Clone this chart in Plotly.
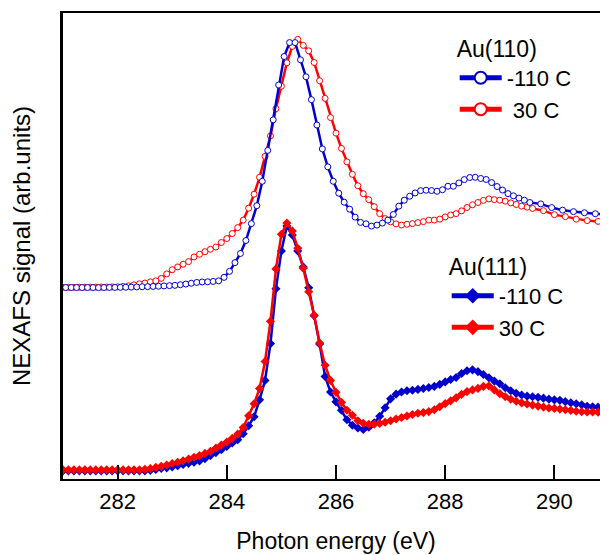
import numpy as np
import plotly.graph_objects as go

# ---------------- data (arb. units) ----------------
# Au(110) -110 C : measured every 0.1 eV up to 289.55, then every 0.2 eV
energy_au110_cold = list(np.round(np.arange(281.05, 289.56, 0.1), 2)) + \
    [289.75, 289.95, 290.15, 290.35, 290.55, 290.75, 290.95]
signal_au110_cold = [
    192.3, 192.3, 192.3, 192.3, 192.3, 192.3, 192.2, 192.3, 192.4, 192.4,
    192.5, 192.6, 192.7, 192.9, 193.1, 193.2, 193.4, 193.6, 193.9, 194.2,
    194.5, 195.1, 195.8, 196.6, 197.4, 197.9, 198.1, 198.4, 199.0, 202.5,
    208.5, 217.3, 226.5, 239.5, 256.5, 274.5, 299.0, 330.0, 360.7, 395.7,
    424.3, 438.3, 438.3, 421.0, 404.0, 381.0, 355.5, 331.5, 313.5, 299.0,
    287.0, 278.0, 271.0, 263.0, 257.7, 256.3, 254.0, 255.0, 257.0, 260.0,
    265.7, 274.0, 280.0, 284.0, 287.3, 289.6, 290.0, 289.7, 289.0, 290.5,
    294.0, 294.0, 297.3, 300.7, 302.8, 303.0, 301.8, 300.8, 297.7, 293.7,
    290.2, 286.6, 284.4, 282.1, 280.0, 277.7,
    276.3, 272.6, 270.0, 268.5, 267.4, 266.4, 265.7,
]

# Au(110) 30 C
energy_au110_warm = list(np.round(np.arange(281.0, 289.61, 0.1), 2)) + \
    [289.8, 290.0, 290.2, 290.4, 290.6, 290.8, 290.95]
signal_au110_warm = [
    192.5, 192.5, 192.5, 192.6, 192.6, 192.7, 192.7, 192.8, 192.8, 192.9,
    193.0, 193.4, 194.0, 195.0, 196.0, 196.8, 198.0, 199.0, 201.5, 206.0,
    210.2, 213.0, 215.7, 218.3, 223.0, 225.7, 228.3, 230.7, 233.0, 237.5,
    241.5, 246.5, 252.5, 260.0, 272.0, 286.0, 303.0, 324.0, 344.5, 372.0,
    394.5, 418.0, 434.5, 441.5, 435.5, 430.0, 418.3, 400.0, 382.3, 363.0,
    347.3, 332.0, 318.5, 306.0, 294.5, 286.5, 280.5, 273.5, 266.5, 261.5,
    258.2, 256.2, 255.0, 255.8, 256.5, 257.5, 258.5, 260.0, 260.0, 261.0,
    263.2, 265.2, 266.5, 269.3, 272.7, 275.4, 277.7, 279.8, 281.3, 280.6,
    280.0, 279.0, 277.3, 275.7, 274.0, 273.0, 271.7,
    269.5, 265.5, 263.5, 261.0, 259.5, 258.7, 258.2,
]

# Au(111), both temperatures measured every 0.1 eV
energy_au111 = list(np.round(np.arange(281.0, 290.91, 0.1), 2))
signal_au111_cold = [
    8.2, 8.2, 8.2, 8.2, 8.2, 8.2, 8.2, 8.2, 8.2, 8.2,
    8.2, 8.2, 8.2, 8.2, 8.2, 8.2, 8.7, 9.5, 10.5, 11.2,
    12.2, 13.4, 14.5, 15.7, 16.8, 18.2, 20.5, 23.5, 26.5, 29.5,
    32.7, 36.2, 39.5, 45.5, 53.5, 62.5, 79.5, 99.0, 136.0, 191.0,
    229.0, 254.0, 245.0, 229.0, 213.0, 192.0, 164.0, 135.7, 103.0, 87.3,
    77.5, 69.0, 59.5, 54.0, 51.2, 49.7, 52.0, 56.5, 63.0, 71.5,
    80.5, 85.2, 87.3, 88.6, 89.2, 90.0, 90.9, 91.9, 93.0, 95.0,
    97.5, 99.9, 102.0, 106.0, 108.7, 109.6, 107.8, 105.0, 101.7, 98.3,
    95.7, 91.7, 88.6, 86.0, 84.3, 83.2, 82.6, 82.0, 81.2, 80.2,
    79.5, 79.0, 77.7, 76.6, 75.6, 74.5, 73.0, 72.6, 72.2, 71.8,
]
signal_au111_warm = [
    9.2, 9.2, 9.2, 9.2, 9.2, 9.2, 9.2, 9.2, 9.2, 9.2,
    9.2, 9.2, 9.2, 9.2, 9.2, 9.7, 10.5, 11.7, 12.7, 14.0,
    15.5, 16.8, 18.3, 20.0, 21.8, 23.5, 25.7, 27.7, 31.0, 34.2,
    37.2, 41.0, 45.2, 51.7, 63.5, 75.5, 91.0, 118.0, 158.5, 211.0,
    245.7, 257.0, 249.0, 231.7, 211.7, 188.0, 164.5, 136.7, 114.2, 99.0,
    87.0, 77.0, 69.0, 64.0, 58.5, 56.0, 55.0, 55.0, 55.7, 57.0,
    58.5, 60.2, 61.8, 63.2, 64.8, 66.0, 66.7, 67.7, 69.5, 72.5,
    75.7, 78.5, 81.5, 85.0, 87.8, 89.5, 91.0, 93.0, 93.5, 89.5,
    85.7, 82.7, 80.2, 78.2, 76.5, 75.3, 74.2, 73.2, 72.2, 71.3,
    70.9, 70.2, 69.5, 68.9, 68.0, 67.5, 67.3, 67.3, 67.2, 66.7,
]

x_ticks = [282, 284, 286, 288, 290]
legend_titles = ["Au(110)", "Au(111)"]
labels_110 = ["-110 C", "\u00a030 C"]
labels_111 = ["-110 C", "30 C"]

BLUE = "#0000CD"
RED = "#FF0000"
FONT = "Liberation Sans, Arial, sans-serif"

fig = go.Figure()

# Au(110) - open circles
fig.add_trace(go.Scatter(
    x=energy_au110_warm, y=signal_au110_warm, mode="lines+markers",
    name=labels_110[1], legend="legend", legendrank=2,
    line=dict(color=RED, width=2.5),
    marker=dict(symbol="circle", size=6, color="white",
                line=dict(color=RED, width=1))))
fig.add_trace(go.Scatter(
    x=energy_au110_cold, y=signal_au110_cold, mode="lines+markers",
    name=labels_110[0], legend="legend", legendrank=1,
    line=dict(color=BLUE, width=2.5),
    marker=dict(symbol="circle", size=6, color="white",
                line=dict(color=BLUE, width=1))))

# Au(111) - filled diamonds
fig.add_trace(go.Scatter(
    x=energy_au111, y=signal_au111_cold, mode="lines+markers",
    name=labels_111[0], legend="legend2", legendrank=1,
    line=dict(color=BLUE, width=2.5),
    marker=dict(symbol="diamond", size=7, color=BLUE)))
fig.add_trace(go.Scatter(
    x=energy_au111, y=signal_au111_warm, mode="lines+markers",
    name=labels_111[1], legend="legend2", legendrank=2,
    line=dict(color=RED, width=2.5),
    marker=dict(symbol="diamond", size=7, color=RED)))

fig.update_layout(
    width=608, height=555,
    margin=dict(l=55, r=7, t=3, b=84),
    plot_bgcolor="white", paper_bgcolor="white",
    font=dict(family=FONT, size=22, color="black"),
    showlegend=True,
    legend=dict(title=dict(text=legend_titles[0], font=dict(size=23)),
                x=0.7174, y=0.970, xanchor="left", yanchor="top",
                bgcolor="rgba(0,0,0,0)", itemwidth=42,
                itemsizing="constant", font=dict(size=22),
                traceorder="normal"),
    legend2=dict(title=dict(text=legend_titles[1], font=dict(size=23)),
                 x=0.7028, y=0.502, xanchor="left", yanchor="top",
                 bgcolor="rgba(0,0,0,0)", itemwidth=42,
                 itemsizing="constant", font=dict(size=22),
                 traceorder="normal"),
    xaxis=dict(range=[281, 291], tickvals=x_ticks,
               ticks="inside", ticklen=14, tickwidth=2, tickcolor="black",
               ticklabelstandoff=2,
               showline=True, linecolor="black", linewidth=2, mirror=True,
               showgrid=False, zeroline=False,
               tickfont=dict(size=22),
               title=dict(text="Photon energy (eV)", font=dict(size=23),
                          standoff=19)),
    yaxis=dict(range=[0, 468], showticklabels=False, ticks="",
               showline=True, linecolor="black", linewidth=2.5,
               showgrid=False, zeroline=False,
               title=dict(text="NEXAFS signal (arb.units)",
                          font=dict(size=24), standoff=23)),
)

fig.write_html("out.html")
